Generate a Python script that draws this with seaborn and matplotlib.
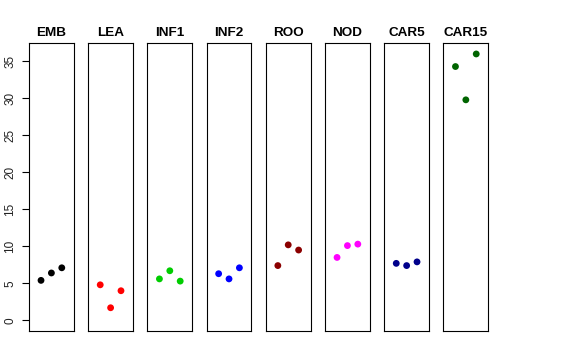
#!/usr/bin/env python3

"""
Strip of per-tissue dot panels, three replicates each.
"""

import matplotlib

matplotlib.use("Agg")
import matplotlib.pyplot as plt
import pandas as pd
import seaborn as sns

tissues = ["EMB", "LEA", "INF1", "INF2", "ROO", "NOD", "CAR5", "CAR15"]
replicates = [1, 2, 3]
emb = [5.4, 6.4, 7.1]
lea = [4.8, 1.7, 4.0]
inf1 = [5.6, 6.7, 5.3]
inf2 = [6.3, 5.6, 7.1]
roo = [7.4, 10.2, 9.5]
nod = [8.5, 10.1, 10.3]
car5 = [7.7, 7.4, 7.9]
car15 = [34.3, 29.8, 36.0]
colours = ["black", "red", "#00CD00", "blue", "#8B0000", "magenta", "#00008B", "#006400"]


def main():
    sns.set_theme(style="ticks")
    plt.rcParams["font.family"] = ["Liberation Sans", "DejaVu Sans"]
    plt.rcParams["text.color"] = "black"
    plt.rcParams["ytick.labelcolor"] = "#222222"

    values = [emb, lea, inf1, inf2, roo, nod, car5, car15]
    rows = []
    for tissue, vals in zip(tissues, values):
        for rep, v in zip(replicates, vals):
            rows.append({"tissue": tissue, "rep": rep, "value": v})
    df = pd.DataFrame(rows)

    fig, axes = plt.subplots(1, len(tissues), figsize=(5.76, 3.6), dpi=100, sharey=True)
    fig.subplots_adjust(left=0.0503, right=0.8477, top=0.8797, bottom=0.0806, wspace=0.32)

    ymax = df["value"].max()
    pad = ymax * 0.04
    for ax, tissue, colour in zip(axes, tissues, colours):
        sub = df[df["tissue"] == tissue]
        sns.scatterplot(data=sub, x="rep", y="value", color=colour, s=24,
                        edgecolor="none", ax=ax, legend=False)
        ax.set_xlim(-0.16, 4.16)
        ax.set_ylim(-pad, ymax + pad)
        ax.set_xticks([])
        ax.set_xlabel("")
        ax.set_ylabel("")
        ax.set_title(tissue, fontsize=9.7, fontweight="bold", pad=5, color="black")
        for spine in ax.spines.values():
            spine.set_visible(True)
            spine.set_color("black")
            spine.set_linewidth(0.8)
        ax.tick_params(axis="y", left=False, labelleft=False)

    axes[0].set_yticks(range(0, 36, 5))
    axes[0].tick_params(axis="y", left=True, labelleft=True, length=5, width=0.8,
                        labelsize=8.5, pad=4, color="black")
    for lbl in axes[0].get_yticklabels():
        lbl.set_rotation(90)
        lbl.set_va("center")

    fig.savefig("out.png", dpi=100)


if __name__ == "__main__":
    main()
